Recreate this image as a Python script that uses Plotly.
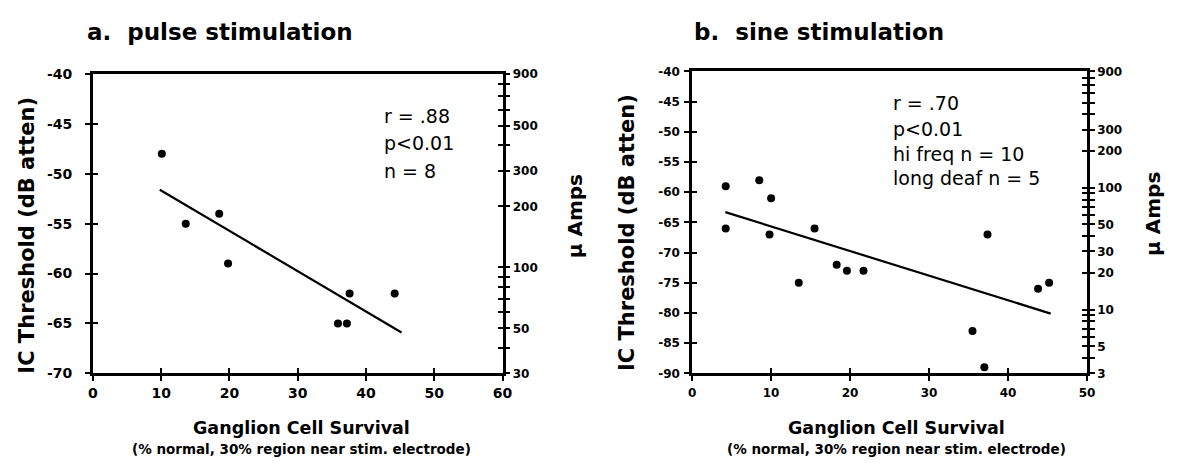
import math
import plotly.graph_objects as go

W, H = 1177, 468
FONT = "DejaVu Sans"

# ---------------- data ----------------
pulse_x = [10.1, 13.6, 18.5, 19.8, 35.9, 37.2, 37.6, 44.2]
pulse_y = [-48, -55, -54, -59, -65, -65, -62, -62]
pulse_fit_x = [9.8, 45.2]
pulse_fit_y = [-51.6, -65.9]

sine_x = [4.25, 4.25, 8.5, 10.0, 9.8, 13.5, 15.5, 18.3, 19.6, 21.7, 35.5, 37.0, 37.4, 43.8, 45.2]
sine_y = [-59, -66, -58, -61, -67, -75, -66, -72, -73, -73, -83, -89, -67, -76, -75]
sine_fit_x = [4.2, 45.4]
sine_fit_y = [-63.3, -80.1]

pulse_xticks = [0, 10, 20, 30, 40, 50, 60]
pulse_yticks = [-40, -45, -50, -55, -60, -65, -70]
pulse_amp_ticks = [30, 40, 50, 60, 70, 80, 90, 100, 200, 300, 400, 500, 600, 700, 800, 900]
pulse_amp_labels = [30, 50, 100, 200, 300, 500, 900]

sine_xticks = [0, 10, 20, 30, 40, 50]
sine_yticks = [-40, -45, -50, -55, -60, -65, -70, -75, -80, -85, -90]
sine_amp_ticks = [3, 4, 5, 6, 7, 8, 9, 10, 20, 30, 40, 50, 60, 70, 80, 90,
                  100, 200, 300, 400, 500, 600, 700, 800, 900]
sine_amp_labels = [3, 5, 10, 20, 30, 50, 100, 200, 300, 900]

pulse_stats = ["r = .88", "p<0.01", "n = 8"]
sine_stats = ["r = .70", "p<0.01", "hi freq n = 10", "long deaf n = 5"]

# ---------------- layout helpers ----------------
def fx(p):
    return p / W


def fy(p):
    return 1 - p / H


A_dx = [fx(89), fx(504)]
A_dy = [fy(378.3), fy(68.3)]
B_dx = [fx(696), fx(1096)]
B_dy = [fy(378.3), fy(65.7)]

LW = 2.5
TL = 5


def base_axis(**kw):
    d = dict(showline=True, linecolor="black", linewidth=LW, ticks="outside",
             ticklen=TL, tickwidth=2, tickcolor="black", showgrid=False,
             zeroline=False, fixedrange=True)
    d.update(kw)
    return d


def inside_axis(**kw):
    d = dict(showline=False, ticks="inside", ticklen=TL, tickwidth=2,
             tickcolor="black", showgrid=False, zeroline=False,
             showticklabels=False, fixedrange=True)
    d.update(kw)
    return d


def tickfont(size):
    return dict(family=FONT, size=size, color="black", weight="bold")


def hyphen(vals):
    return [str(v) for v in vals]


fig = go.Figure()

mk = dict(color="black", size=8)
fig.add_trace(go.Scatter(x=pulse_x, y=pulse_y, mode="markers", marker=mk,
                         xaxis="x", yaxis="y", showlegend=False))
fig.add_trace(go.Scatter(x=pulse_fit_x, y=pulse_fit_y, mode="lines",
                         line=dict(color="black", width=2.2),
                         xaxis="x", yaxis="y", showlegend=False))
fig.add_trace(go.Scatter(x=sine_x, y=sine_y, mode="markers", marker=mk,
                         xaxis="x2", yaxis="y3", showlegend=False))
fig.add_trace(go.Scatter(x=sine_fit_x, y=sine_fit_y, mode="lines",
                         line=dict(color="black", width=2.2),
                         xaxis="x2", yaxis="y3", showlegend=False))

# invisible helper traces so every overlay axis is drawn
for xa, ya, xv, yv in [("x", "y2", 30, 100), ("x3", "y", 30, -55), ("x", "y5", 30, -55),
                       ("x", "y6", 30, 100), ("x2", "y4", 20, 100), ("x4", "y3", 20, -60),
                       ("x2", "y7", 20, -60), ("x2", "y8", 20, 100)]:
    fig.add_trace(go.Scatter(x=[xv], y=[yv], mode="markers", marker=dict(opacity=0),
                             xaxis=xa, yaxis=ya, hoverinfo="skip", showlegend=False))


def amp_text(ticks, labels):
    return [str(t) if t in labels else "" for t in ticks]


fig.update_layout(
    width=W, height=H, margin=dict(l=0, r=0, t=0, b=0),
    paper_bgcolor="white", plot_bgcolor="white",
    font=dict(family=FONT, color="black"),
    # ---- panel a ----
    xaxis=base_axis(domain=A_dx, range=[0, 60], anchor="y", tickvals=pulse_xticks,
                    mirror=True, tickfont=tickfont(14), ticklabelstandoff=0),
    yaxis=base_axis(domain=A_dy, range=[-70, -40], anchor="x", tickvals=pulse_yticks,
                    ticktext=hyphen(pulse_yticks),
                    tickfont=tickfont(14), ticklabelstandoff=10),
    yaxis2=base_axis(overlaying="y", side="right", anchor="x", type="log",
                     range=[math.log10(30), math.log10(900)], tickvals=pulse_amp_ticks,
                     ticktext=amp_text(pulse_amp_ticks, pulse_amp_labels),
                     tickfont=tickfont(12), ticklabelstandoff=0),
    xaxis3=inside_axis(overlaying="x", anchor="y", side="bottom", range=[0, 60],
                       tickvals=pulse_xticks),
    yaxis5=inside_axis(overlaying="y", anchor="x", side="left", range=[-70, -40],
                       tickvals=pulse_yticks),
    yaxis6=inside_axis(overlaying="y", anchor="x", side="right", type="log",
                       range=[math.log10(30), math.log10(900)], tickvals=pulse_amp_ticks),
    # ---- panel b ----
    xaxis2=base_axis(domain=B_dx, range=[0, 50], anchor="y3", tickvals=sine_xticks,
                     mirror=True, tickfont=tickfont(12), ticklabelstandoff=1),
    yaxis3=base_axis(domain=B_dy, range=[-90, -40], anchor="x2", tickvals=sine_yticks,
                     ticktext=hyphen(sine_yticks),
                     tickfont=tickfont(12), ticklabelstandoff=2),
    yaxis4=base_axis(overlaying="y3", side="right", anchor="x2", type="log",
                     range=[math.log10(3), math.log10(900)], tickvals=sine_amp_ticks,
                     ticktext=amp_text(sine_amp_ticks, sine_amp_labels),
                     tickfont=tickfont(12), ticklabelstandoff=0),
    xaxis4=inside_axis(overlaying="x2", anchor="y3", side="bottom", range=[0, 50],
                       tickvals=sine_xticks),
    yaxis7=inside_axis(overlaying="y3", anchor="x2", side="left", range=[-90, -40],
                       tickvals=sine_yticks),
    yaxis8=inside_axis(overlaying="y3", anchor="x2", side="right", type="log",
                       range=[math.log10(3), math.log10(900)], tickvals=sine_amp_ticks),
)

ann = []


def add_text(text, x, y, size, bold=True, xanchor="center", angle=0):
    ann.append(dict(text=text, x=fx(x), y=fy(y), xref="paper", yref="paper",
                    xanchor=xanchor, yanchor="middle", showarrow=False, textangle=angle,
                    font=dict(family=FONT, size=size, color="black",
                              weight="bold" if bold else "normal")))


# titles
add_text("a.\u00a0 pulse stimulation", 81, 25, 23, xanchor="left")
add_text("b.\u00a0 sine stimulation", 696, 25, 23, xanchor="left")
# y titles
add_text("IC Threshold (dB atten)", 22, 235, 21, angle=-90)
add_text("IC Threshold (dB atten)", 630, 232, 21, angle=-90)
add_text("\u03bc Amps", 577, 216, 20, angle=-90)
add_text("\u03bc Amps", 1163, 213, 20, angle=-90)
# x titles
for cx in (300, 903):
    add_text("Ganglion Cell Survival", cx, 435, 17.5)
    add_text("(% normal, 30% region near stim. electrode)", cx, 457, 13.5)
# stats
for t, yy in zip(pulse_stats, [111.5, 140, 168.5]):
    add_text(t, 382, yy, 19, bold=False, xanchor="left")
for t, yy in zip(sine_stats, [98, 125, 151, 176]):
    add_text(t, 897, yy, 19, bold=False, xanchor="left")

fig.update_layout(annotations=ann)
fig.write_html("out.html")
